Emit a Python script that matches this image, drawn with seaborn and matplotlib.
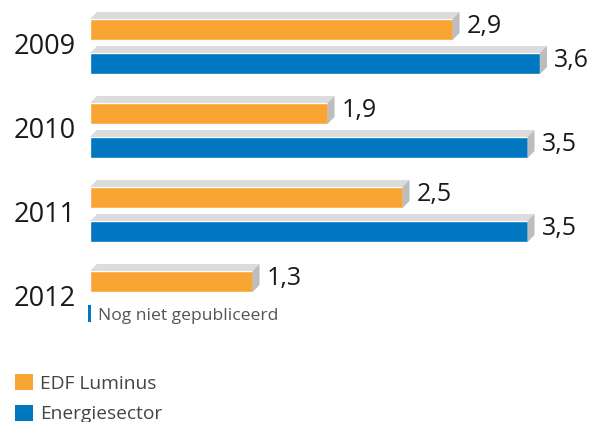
import numpy as np
import pandas as pd
import seaborn as sns
import matplotlib.pyplot as plt
from matplotlib.patches import Polygon, Patch, Rectangle

years = ["2009", "2010", "2011", "2012"]
edf_luminus = [2.9, 1.9, 2.5, 1.3]
energiesector = [3.6, 3.5, 3.5, np.nan]
series_names = ["EDF Luminus", "Energiesector"]
colors = ["#F9A533", "#0077C0"]
note_text = "Nog niet gepubliceerd"

df = pd.DataFrame({
    "jaar": years * 2,
    "waarde": edf_luminus + energiesector,
    "reeks": [series_names[0]] * 4 + [series_names[1]] * 4,
})

sns.set_theme(style="white")
plt.rcParams["font.family"] = ["Open Sans", "DejaVu Sans"]

W, H = 596, 422
fig = plt.figure(figsize=(W / 100, H / 100), dpi=100)
ax = fig.add_axes([0, 0, 1, 1])

sns.barplot(data=df, x="waarde", y="jaar", hue="reeks", orient="h",
            palette=colors, width=0.81, gap=0.38, saturation=1,
            dodge=True, legend=False, ax=ax)

# pixel-aligned data limits: x 0 at 90px, 125px/unit; groups 84px apart
px_x, px_y = 125.0, 84.0
ax.set_xlim(-90 / px_x, (W - 90) / px_x)
ax.set_ylim((H - 46.5) / px_y, -46.5 / px_y)
ax.axis("off")

# pseudo-3D faces on each bar
dx, dy = 7 / px_x, 7 / px_y
for bar in ax.patches:
    w = bar.get_width()
    if not np.isfinite(w) or w <= 0:
        continue
    x0, y0 = bar.get_x(), bar.get_y()
    h = bar.get_height()
    top = y0  # inverted axis: smaller y is higher
    bot = y0 + h
    ax.add_patch(Polygon([(x0, top), (x0 + w, top), (x0 + w + dx, top - dy),
                          (x0 + dx, top - dy)], closed=True,
                         facecolor="#DCDCDC", edgecolor="none", zorder=2))
    ax.add_patch(Polygon([(x0 + w, top), (x0 + w + dx, top - dy),
                          (x0 + w + dx, bot - dy), (x0 + w, bot)], closed=True,
                         facecolor="#BDBDBD", edgecolor="none", zorder=2))
    ax.text(x0 + w + dx + 7 / px_x, y0 + h / 2 - 3 / px_y,
            f"{w:.1f}".replace(".", ","), ha="left", va="center",
            fontsize=18, color="#1a1a1a")

# year labels
for i, yr in enumerate(years):
    ax.text(-14 / px_x, i + 1 / px_y, yr, ha="right", va="center",
            fontsize=19.5, color="#1a1a1a")

# missing value note under 2012
i_missing = years.index("2012")
ax.add_patch(Rectangle((-2 / px_x, i_missing + 6 / px_y), 3 / px_x, 17 / px_y,
                       facecolor=colors[1], edgecolor="none"))
ax.text(8 / px_x, i_missing + 18 / px_y, note_text, ha="left", va="center",
        fontsize=12.6, color="#555555")

handles = [Patch(facecolor=c, edgecolor="none", label=n)
           for c, n in zip(colors, series_names)]
fig.legend(handles=handles, loc="upper left", bbox_to_anchor=(11 / W, 1 - 370 / H),
           frameon=False, fontsize=13.8, labelcolor="#444444",
           handlelength=0.95, handleheight=0.95, handletextpad=0.35,
           labelspacing=0.62, borderaxespad=0, borderpad=0.2)

fig.savefig("out.png", dpi=100)
